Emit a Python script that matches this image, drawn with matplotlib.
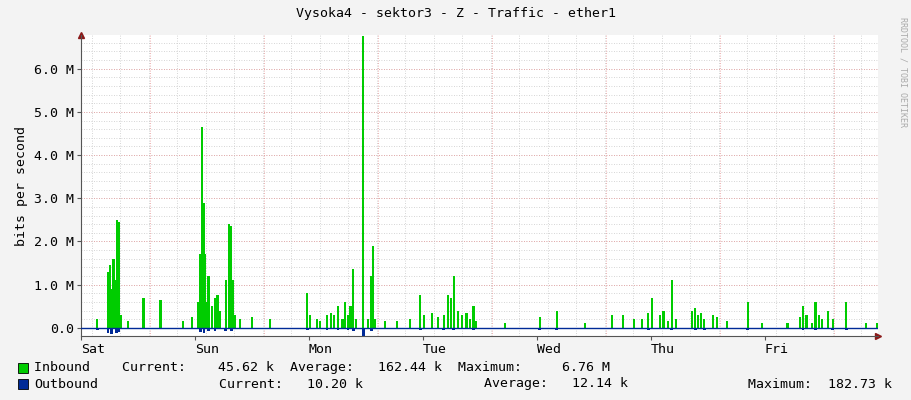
import matplotlib.pyplot as plt
import numpy as np

# hours since start of graph (Sat label tick), values in Mbit/s
in_hours = [3.4, 5.7, 6.1, 6.5, 6.9, 7.4, 7.6, 8.0, 8.4, 9.9, 13.1, 16.8, 21.5, 23.4,
            24.6, 25.1, 25.5, 25.9, 26.1, 26.5, 26.9, 27.6, 28.2, 28.8, 29.3,
            30.5, 31.2, 31.6, 32.0, 32.4, 33.5, 36.0, 39.8,
            47.6, 48.2, 49.7, 50.3, 51.8, 52.6, 53.3, 54.1, 55.0, 55.6, 56.2, 56.8, 57.3, 57.9,
            59.4, 60.4, 61.1, 61.5, 61.9,
            64.0, 66.5, 69.3, 71.4, 72.2, 73.9, 75.2, 76.4, 77.3, 77.9, 78.5, 79.4, 80.2, 81.1,
            81.9, 82.7, 83.2, 89.3, 96.6, 100.2, 106.1,
            111.8, 114.1, 116.4, 118.1, 119.4, 120.2, 121.9, 122.7, 123.6, 124.4, 125.3,
            128.6, 129.3, 129.9, 130.5, 131.2, 133.1, 133.9, 136.0,
            140.4, 143.4, 148.8, 151.4, 152.0, 152.8, 153.9, 154.7, 155.4, 156.0, 157.3, 158.3,
            161.1, 165.3, 167.6]
in_vals = [0.2, 1.3, 1.45, 0.9, 1.6, 1.1, 2.5, 2.45, 0.3, 0.15, 0.7, 0.65, 0.15, 0.25,
           0.6, 1.7, 4.65, 2.9, 1.7, 0.6, 1.2, 0.5, 0.7, 0.75, 0.4,
           1.1, 2.4, 2.35, 1.1, 0.3, 0.2, 0.25, 0.2,
           0.8, 0.3, 0.2, 0.15, 0.3, 0.35, 0.3, 0.5, 0.2, 0.6, 0.3, 0.5, 1.35, 0.2,
           6.76, 0.2, 1.2, 1.9, 0.2,
           0.15, 0.15, 0.2, 0.75, 0.3, 0.35, 0.25, 0.3, 0.75, 0.7, 1.2, 0.4, 0.3, 0.35,
           0.2, 0.5, 0.15, 0.1, 0.25, 0.4, 0.1,
           0.3, 0.3, 0.2, 0.2, 0.35, 0.7, 0.3, 0.4, 0.15, 1.1, 0.2,
           0.4, 0.45, 0.3, 0.35, 0.2, 0.3, 0.25, 0.15,
           0.6, 0.1, 0.1, 0.25, 0.5, 0.3, 0.1, 0.6, 0.3, 0.2, 0.4, 0.2,
           0.6, 0.1, 0.1]

out_hours = [3.4, 5.7, 6.5, 7.4, 8.0, 25.1, 25.9, 26.9, 28.2, 30.5, 31.6, 47.6, 51.8,
             54.1, 56.2, 57.3, 59.4, 61.1, 71.4, 76.4, 78.5, 82.7, 96.6, 100.2, 119.4,
             124.4, 129.3, 131.2, 140.4, 152.0, 154.7, 158.3, 161.1]
out_vals = [0.05, 0.12, 0.14, 0.12, 0.1, 0.1, 0.13, 0.08, 0.07, 0.08, 0.07, 0.05, 0.05,
            0.06, 0.05, 0.08, 0.18, 0.08, 0.06, 0.06, 0.05, 0.05, 0.04, 0.06, 0.05,
            0.05, 0.05, 0.04, 0.04, 0.05, 0.05, 0.04, 0.04]

days = ['Sat', 'Sun', 'Mon', 'Tue', 'Wed', 'Thu', 'Fri']
yticks = [0.0, 1.0, 2.0, 3.0, 4.0, 5.0, 6.0]

mono = 'DejaVu Sans Mono'
fig = plt.figure(figsize=(9.11, 4.0), dpi=100, facecolor='#f3f3f3')
ax = fig.add_axes([81 / 911, 1 - 336 / 400, (878 - 81) / 911, (336 - 35) / 400])
ax.set_facecolor('white')
ax.set_xlim(0, 167.8)
ax.set_ylim(-0.19, 6.78)

# grid
for y in np.arange(-0.0, 6.8, 0.2):
    ax.axhline(y, color='#c8c8c8', lw=0.6, ls=(0, (1, 2)), zorder=0)
for y in yticks:
    ax.axhline(y, color='#e89a9a', lw=0.6, ls=(0, (1, 2)), zorder=0)
for x in np.arange(2.3, 168, 6):
    ax.axvline(x, color='#c8c8c8', lw=0.6, ls=(0, (1, 2)), zorder=0)
for x in np.arange(14.5, 168, 24):
    ax.axvline(x, color='#e89a9a', lw=0.6, ls=(0, (1, 2)), zorder=0)

ax.bar(in_hours, in_vals, width=0.55, color='#00cc00', lw=0, zorder=2)
ax.bar(out_hours, [-v for v in out_vals], width=0.6, color='#002a97', lw=0, zorder=3)
ax.axhline(0, color='#002a97', lw=1, zorder=4)

for s in ['top', 'right']:
    ax.spines[s].set_visible(False)
for s in ['left', 'bottom']:
    ax.spines[s].set_color('#555555')
ax.plot(0, 1, marker='^', color='#8b1a1a', ms=4, transform=ax.transAxes, clip_on=False)
ax.plot(1, 0, marker='>', color='#8b1a1a', ms=4, transform=ax.transAxes, clip_on=False)

ax.set_yticks(yticks)
ax.set_yticklabels(['%.1f M' % v if v else '0.0' for v in yticks], family=mono, fontsize=9.5)
ax.set_xticks(np.arange(0, 168, 24))
ax.set_xticklabels(days, family=mono, fontsize=9.5, ha='left')
ax.tick_params(length=3, color='#555555', pad=2)
ax.set_ylabel('bits per second', family=mono, fontsize=9.5)

fig.text(0.5, 1 - 14 / 400, 'Vysoka4 - sektor3 - Z - Traffic - ether1', family=mono,
         fontsize=9.5, ha='center', va='center')
fig.text(903 / 911, 0.82, 'RRDTOOL / TOBI OETIKER', family=mono, fontsize=6,
         color='#aaaaaa', rotation=270, ha='center', va='center')

rows = [('#00cc00', 368, 'Inbound    Current:    45.62 k  Average:   162.44 k  Maximum:     6.76 M'),
        ('#002a97', 384, 'Outbound')]
for col, yp, txt in rows:
    fig.patches.append(plt.Rectangle((18 / 911, 1 - (yp + 5) / 400), 10 / 911, 10 / 400,
                                     transform=fig.transFigure, facecolor=col,
                                     edgecolor='black', lw=0.6))
    fig.text(34 / 911, 1 - yp / 400, txt, family=mono, fontsize=9.5, va='center')
fig.text(219 / 911, 1 - 384 / 400, 'Current:   10.20 k', family=mono, fontsize=9.5, va='center')
fig.text(484 / 911, 1 - 384 / 400, 'Average:   12.14 k', family=mono, fontsize=9.5, va='center')
fig.text(748 / 911, 1 - 384 / 400, 'Maximum:  182.73 k', family=mono, fontsize=9.5, va='center')

fig.savefig('out.png', dpi=100, facecolor=fig.get_facecolor())
